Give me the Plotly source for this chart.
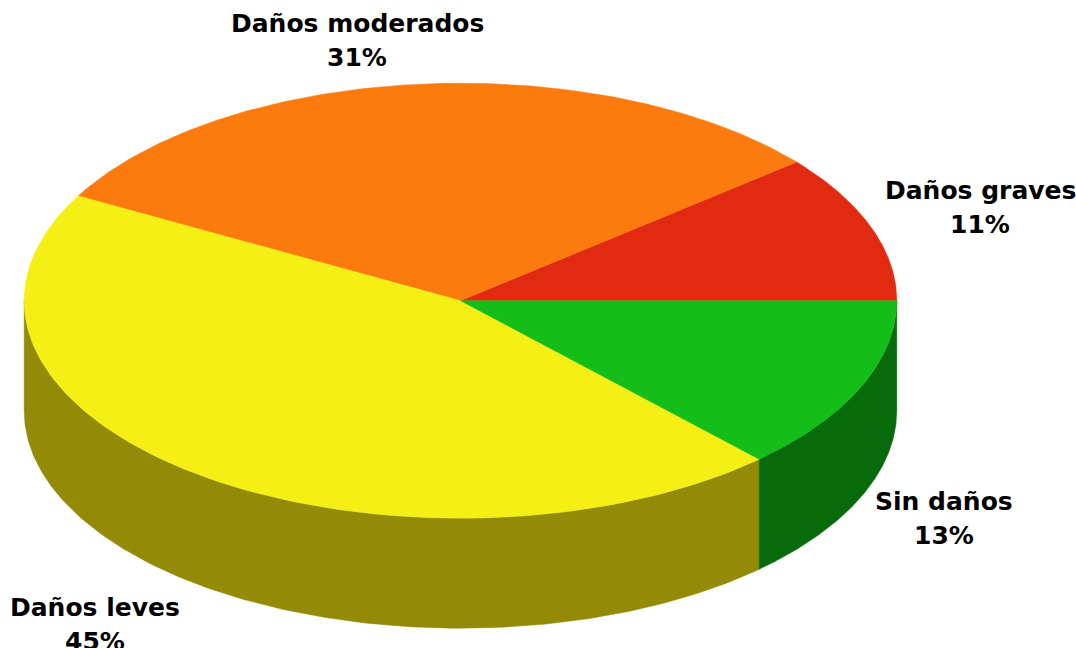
import numpy as np
import plotly.graph_objects as go

# data
labels = ["Daños graves", "Daños moderados", "Daños leves", "Sin daños"]
values = [11, 31, 45, 13]
top_colors = ["#E12A10", "#FD7B0E", "#F4EF14", "#14BE19"]
side_colors = ["#8A1A0A", "#9C4C08", "#938A05", "#076B0B"]

# pie geometry (pixel space)
cx, cy = 460.5, 300.7
rx, ry = 436.3, 217.5
depth = 110

# label anchors: centre of first line (pixel space)
label_pos = {
    "Daños graves": (980, 190),
    "Daños moderados": (357, 23),
    "Daños leves": (95, 607),
    "Sin daños": (944, 501),
}
line_gap = 34


def arc(a1, a2, n=160):
    t = np.radians(np.linspace(a1, a2, n))
    return cx + rx * np.cos(t), cy - ry * np.sin(t)


total = sum(values)
angles = np.concatenate([[0], np.cumsum(values) / total * 360])

fig = go.Figure()

# sides (only the front half is visible)
for i in range(len(values)):
    a1, a2 = max(angles[i], 180), min(angles[i + 1], 360)
    if a2 <= a1:
        continue
    x, y = arc(a1, a2)
    xs = np.concatenate([x, x[::-1], [x[0]]])
    ys = np.concatenate([y, y[::-1] + depth, [y[0]]])
    fig.add_trace(go.Scatter(x=xs, y=ys, mode="lines", fill="toself",
                             fillcolor=side_colors[i],
                             line=dict(color=side_colors[i], width=0.5),
                             hoverinfo="skip", showlegend=False))

# tops
for i in range(len(values)):
    x, y = arc(angles[i], angles[i + 1])
    xs = np.concatenate([[cx], x, [cx]])
    ys = np.concatenate([[cy], y, [cy]])
    fig.add_trace(go.Scatter(x=xs, y=ys, mode="lines", fill="toself",
                             fillcolor=top_colors[i],
                             line=dict(color=top_colors[i], width=0.5),
                             name=labels[i], hoverinfo="name", showlegend=False))

font = dict(family="DejaVu Sans", size=25, color="black")
for lab, v in zip(labels, values):
    lx, ly = label_pos[lab]
    fig.add_annotation(x=lx, y=ly, text=f"<b>{lab}</b>", showarrow=False,
                       font=font, xanchor="center", yanchor="middle")
    fig.add_annotation(x=lx, y=ly + line_gap, text=f"<b>{v}%</b>", showarrow=False,
                       font=font, xanchor="center", yanchor="middle")

fig.update_xaxes(range=[0, 1076], visible=False)
fig.update_yaxes(range=[648, 0], visible=False)
fig.update_layout(width=1076, height=648, margin=dict(l=0, r=0, t=0, b=0),
                  paper_bgcolor="white", plot_bgcolor="white")

# drop the default body margin so the figure sits at the page corner
fig.write_html("out.html", config={"displayModeBar": False},
               post_script="document.body.style.margin='0';document.body.style.overflow='hidden';")
